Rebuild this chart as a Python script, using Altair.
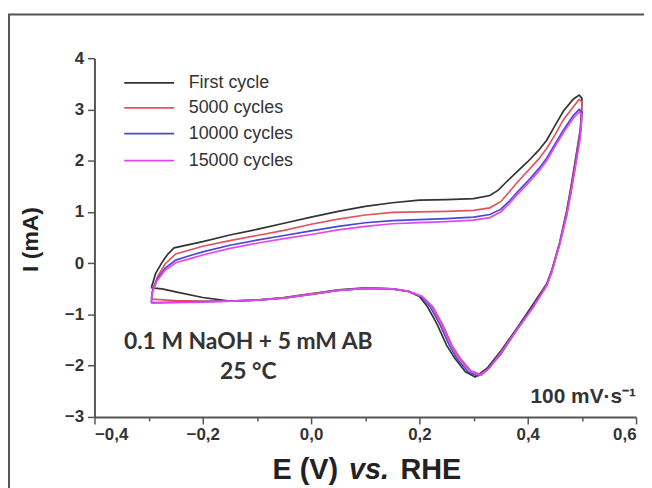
import altair as alt
import pandas as pd

# ---- data ----
cycles = ["First cycle", "5000 cycles", "10000 cycles", "15000 cycles"]
colors = ["#333333", "#e3545c", "#4b47d6", "#e048f0"]

black_E = [-0.295, -0.287, -0.275, -0.265, -0.253, -0.2, -0.15, -0.1, -0.05, 0.0, 0.05, 0.1, 0.15, 0.2, 0.25, 0.3, 0.33, 0.345, 0.36, 0.38, 0.4, 0.42, 0.435, 0.45, 0.466, 0.484, 0.495, 0.5,
           0.5, 0.497, 0.49, 0.48, 0.472, 0.459, 0.444, 0.435, 0.41, 0.38, 0.35, 0.325, 0.303, 0.285, 0.265, 0.25, 0.233, 0.215, 0.2, 0.18, 0.15, 0.1, 0.05, 0.0, -0.05, -0.1, -0.15, -0.2, -0.25, -0.275, -0.295]
black_I = [-0.48, -0.2, 0.02, 0.17, 0.3, 0.42, 0.55, 0.66, 0.78, 0.9, 1.01, 1.11, 1.18, 1.23, 1.24, 1.26, 1.32, 1.42, 1.58, 1.78, 1.98, 2.2, 2.4, 2.68, 2.97, 3.2, 3.28, 3.22,
           3.1, 2.6, 2.15, 1.5, 1.03, 0.4, -0.15, -0.4, -0.8, -1.27, -1.72, -2.05, -2.22, -2.12, -1.85, -1.6, -1.2, -0.85, -0.65, -0.55, -0.5, -0.48, -0.52, -0.6, -0.67, -0.72, -0.74, -0.67, -0.56, -0.5, -0.48]

red_E = [-0.295, -0.292, -0.283, -0.27, -0.25, -0.2, -0.15, -0.1, -0.05, 0.0, 0.05, 0.1, 0.15, 0.2, 0.25, 0.3, 0.33, 0.35, 0.365, 0.38, 0.4, 0.42, 0.435, 0.45, 0.466, 0.484, 0.495, 0.5,
         0.5, 0.497, 0.49, 0.48, 0.472, 0.459, 0.444, 0.435, 0.41, 0.38, 0.35, 0.33, 0.315, 0.295, 0.275, 0.26, 0.243, 0.225, 0.205, 0.18, 0.15, 0.1, 0.05, 0.0, -0.05, -0.1, -0.15, -0.2, -0.25, -0.295]
red_I = [-0.7, -0.5, -0.25, -0.02, 0.18, 0.33, 0.44, 0.54, 0.64, 0.76, 0.86, 0.94, 0.99, 1.0, 1.01, 1.03, 1.08, 1.2, 1.38, 1.57, 1.8, 2.03, 2.24, 2.5, 2.8, 3.05, 3.2, 3.15,
         3.0, 2.55, 2.1, 1.45, 1.0, 0.4, -0.17, -0.42, -0.85, -1.3, -1.75, -2.03, -2.18, -2.1, -1.85, -1.6, -1.2, -0.85, -0.65, -0.55, -0.5, -0.49, -0.53, -0.6, -0.67, -0.72, -0.74, -0.74, -0.73, -0.7]

blue_E = [-0.295, -0.293, -0.285, -0.27, -0.25, -0.22, -0.2, -0.15, -0.1, -0.05, 0.0, 0.05, 0.1, 0.15, 0.2, 0.25, 0.3, 0.33, 0.35, 0.365, 0.38, 0.4, 0.42, 0.435, 0.45, 0.466, 0.484, 0.495, 0.5,
          0.5, 0.497, 0.49, 0.48, 0.472, 0.459, 0.444, 0.435, 0.41, 0.38, 0.35, 0.325, 0.308, 0.29, 0.27, 0.255, 0.238, 0.22, 0.203, 0.18, 0.15, 0.1, 0.05, 0.0, -0.05, -0.1, -0.15, -0.2, -0.25, -0.295]
blue_I = [-0.77, -0.55, -0.32, -0.1, 0.06, 0.16, 0.22, 0.35, 0.45, 0.54, 0.63, 0.72, 0.79, 0.83, 0.85, 0.87, 0.9, 0.95, 1.05, 1.2, 1.38, 1.6, 1.84, 2.05, 2.32, 2.6, 2.88, 3.0, 2.95,
          2.9, 2.5, 2.05, 1.4, 0.95, 0.38, -0.18, -0.43, -0.85, -1.3, -1.78, -2.08, -2.2, -2.12, -1.87, -1.6, -1.2, -0.85, -0.65, -0.55, -0.5, -0.49, -0.53, -0.61, -0.68, -0.72, -0.74, -0.75, -0.76, -0.77]

mag_E = [-0.295, -0.293, -0.285, -0.27, -0.25, -0.22, -0.2, -0.15, -0.1, -0.05, 0.0, 0.05, 0.1, 0.15, 0.2, 0.25, 0.3, 0.33, 0.35, 0.365, 0.38, 0.4, 0.42, 0.435, 0.45, 0.466, 0.484, 0.495, 0.5,
         0.5, 0.497, 0.49, 0.48, 0.472, 0.459, 0.444, 0.435, 0.41, 0.38, 0.35, 0.328, 0.312, 0.293, 0.273, 0.258, 0.241, 0.223, 0.205, 0.18, 0.15, 0.1, 0.05, 0.0, -0.05, -0.1, -0.15, -0.2, -0.25, -0.295]
mag_I = [-0.78, -0.57, -0.35, -0.14, 0.01, 0.1, 0.16, 0.29, 0.39, 0.48, 0.56, 0.65, 0.72, 0.77, 0.79, 0.81, 0.84, 0.89, 1.0, 1.15, 1.33, 1.55, 1.79, 2.0, 2.27, 2.55, 2.83, 2.95, 2.9,
         2.85, 2.45, 2.0, 1.38, 0.93, 0.36, -0.19, -0.44, -0.86, -1.3, -1.76, -2.06, -2.18, -2.1, -1.86, -1.6, -1.2, -0.85, -0.65, -0.55, -0.5, -0.49, -0.53, -0.61, -0.68, -0.72, -0.74, -0.76, -0.77, -0.78]

x_ticks = [-0.4, -0.3, -0.2, -0.1, 0.0, 0.1, 0.2, 0.3, 0.4, 0.5, 0.6]
y_ticks = [-3, -2.5, -2, -1.5, -1, -0.5, 0, 0.5, 1, 1.5, 2, 2.5, 3, 3.5, 4]

# legend placement (data coordinates)
legend_I = [3.52, 3.03, 2.53, 2.0]
legend_E0, legend_E1, legend_Etext = -0.345, -0.253, -0.226

rows = []
for name, Es, Is in zip(cycles, [black_E, red_E, blue_E, mag_E], [black_I, red_I, blue_I, mag_I]):
    for k, (e, i) in enumerate(zip(Es, Is)):
        rows.append({"cycle": name, "E": e, "I": i, "order": k})
df = pd.DataFrame(rows)

leg = pd.DataFrame({"cycle": cycles, "I": legend_I, "E0": [legend_E0] * 4,
                    "E1": [legend_E1] * 4, "Et": [legend_Etext] * 4})

notes = pd.DataFrame([
    {"E": -0.116, "I": -1.54, "text": "0.1 M NaOH + 5 mM AB"},
    {"E": -0.116, "I": -2.12, "text": "25 °C"},
])
rate = pd.DataFrame([{"E": 0.6, "I": -2.61, "text": "100 mV·s⁻¹"}])
xt_plain = pd.DataFrame([{"E": 0.05, "I": -4.04, "text": "E (V)"}])
xt_ital = pd.DataFrame([{"E": 0.107, "I": -4.04, "text": "vs."}])
xt_rhe = pd.DataFrame([{"E": 0.165, "I": -4.04, "text": "RHE"}])

xscale = alt.Scale(domain=[-0.4, 0.6], nice=False, zero=False)
yscale = alt.Scale(domain=[-3, 4], nice=False, zero=False)
cscale = alt.Scale(domain=cycles, range=colors)

x_axis = alt.Axis(
    values=x_ticks, title=None, grid=False,
    labelExpr="abs(round(datum.value*10)) % 2 == 0 ? replace(format(datum.value, '.1f'), '.', ',') : ''",
    tickSize={"condition": {"test": "abs(round(datum.value*10)) % 2 == 0", "value": 7}, "value": 4},
    labelPadding=3,
)
y_axis = alt.Axis(
    values=y_ticks, title="I (mA)", grid=False,
    labelExpr="datum.value % 1 == 0 ? format(datum.value, 'd') : ''",
    tickSize={"condition": {"test": "datum.value % 1 == 0", "value": 7}, "value": 4},
    labelPadding=4,
    titleX=-64, titleY=182, titleAngle=-90, titleBaseline="middle", titleAlign="center",
    titleFontSize=23, titleFont="Liberation Sans", titleFontWeight="bold", titleColor="#222",
)

lines = alt.Chart(df).mark_line(strokeWidth=1.7, clip=False).encode(
    x=alt.X("E:Q", scale=xscale, axis=x_axis),
    y=alt.Y("I:Q", scale=yscale, axis=y_axis),
    color=alt.Color("cycle:N", scale=cscale, legend=None),
    detail="cycle:N",
    order="order:Q",
)

leg_lines = alt.Chart(leg).mark_rule(strokeWidth=1.8).encode(
    x=alt.X("E0:Q", scale=xscale), x2="E1:Q",
    y=alt.Y("I:Q", scale=yscale),
    color=alt.Color("cycle:N", scale=cscale, legend=None),
)
leg_text = alt.Chart(leg).mark_text(
    font="Liberation Sans", fontSize=18, color="#333", align="left", baseline="middle"
).encode(x=alt.X("Et:Q", scale=xscale), y=alt.Y("I:Q", scale=yscale), text="cycle:N")

frame = alt.Chart(pd.DataFrame({"a": [0]})).mark_rect(
    fill=None, stroke="#555", strokeWidth=2, clip=False
).encode(x=alt.value(-86), x2=alt.value(700), y=alt.value(-44), y2=alt.value(600))

note_txt = alt.Chart(notes).mark_text(
    font="Lato", fontWeight="bold", fontSize=23, color="#333", align="center", baseline="middle", clip=False
).encode(x=alt.X("E:Q", scale=xscale), y=alt.Y("I:Q", scale=yscale), text="text:N")

rate_txt = alt.Chart(rate).mark_text(
    font="Liberation Sans", fontWeight="bold", fontSize=21, color="#333", align="right", baseline="middle"
).encode(x=alt.X("E:Q", scale=xscale), y=alt.Y("I:Q", scale=yscale), text="text:N")

t1 = alt.Chart(xt_plain).mark_text(
    font="Liberation Sans", fontWeight="bold", fontSize=29, color="#222", align="right", baseline="middle", clip=False
).encode(x=alt.X("E:Q", scale=xscale), y=alt.Y("I:Q", scale=yscale), text="text:N")
t2 = alt.Chart(xt_ital).mark_text(
    font="Liberation Sans", fontWeight="bold", fontStyle="italic", fontSize=29, color="#222", align="center", baseline="middle", clip=False
).encode(x=alt.X("E:Q", scale=xscale), y=alt.Y("I:Q", scale=yscale), text="text:N")
t3 = alt.Chart(xt_rhe).mark_text(
    font="Liberation Sans", fontWeight="bold", fontSize=29, color="#222", align="left", baseline="middle", clip=False
).encode(x=alt.X("E:Q", scale=xscale), y=alt.Y("I:Q", scale=yscale), text="text:N")

chart = alt.layer(frame, lines, leg_lines, leg_text, note_txt, rate_txt, t1, t2, t3).properties(
    width=545, height=361,
    autosize=alt.AutoSizeParams(type="none"),
    padding={"left": 87, "top": 49, "right": 8, "bottom": 74},
    background="white",
).configure_view(stroke=None).configure_axis(
    domainColor="#555", domainWidth=2, tickColor="#555", tickWidth=1.5,
    labelFont="Liberation Sans", labelFontWeight="bold", labelFontSize=17, labelColor="#333",
)

chart.save("out.html", embed_options={"renderer": "svg", "actions": False})
